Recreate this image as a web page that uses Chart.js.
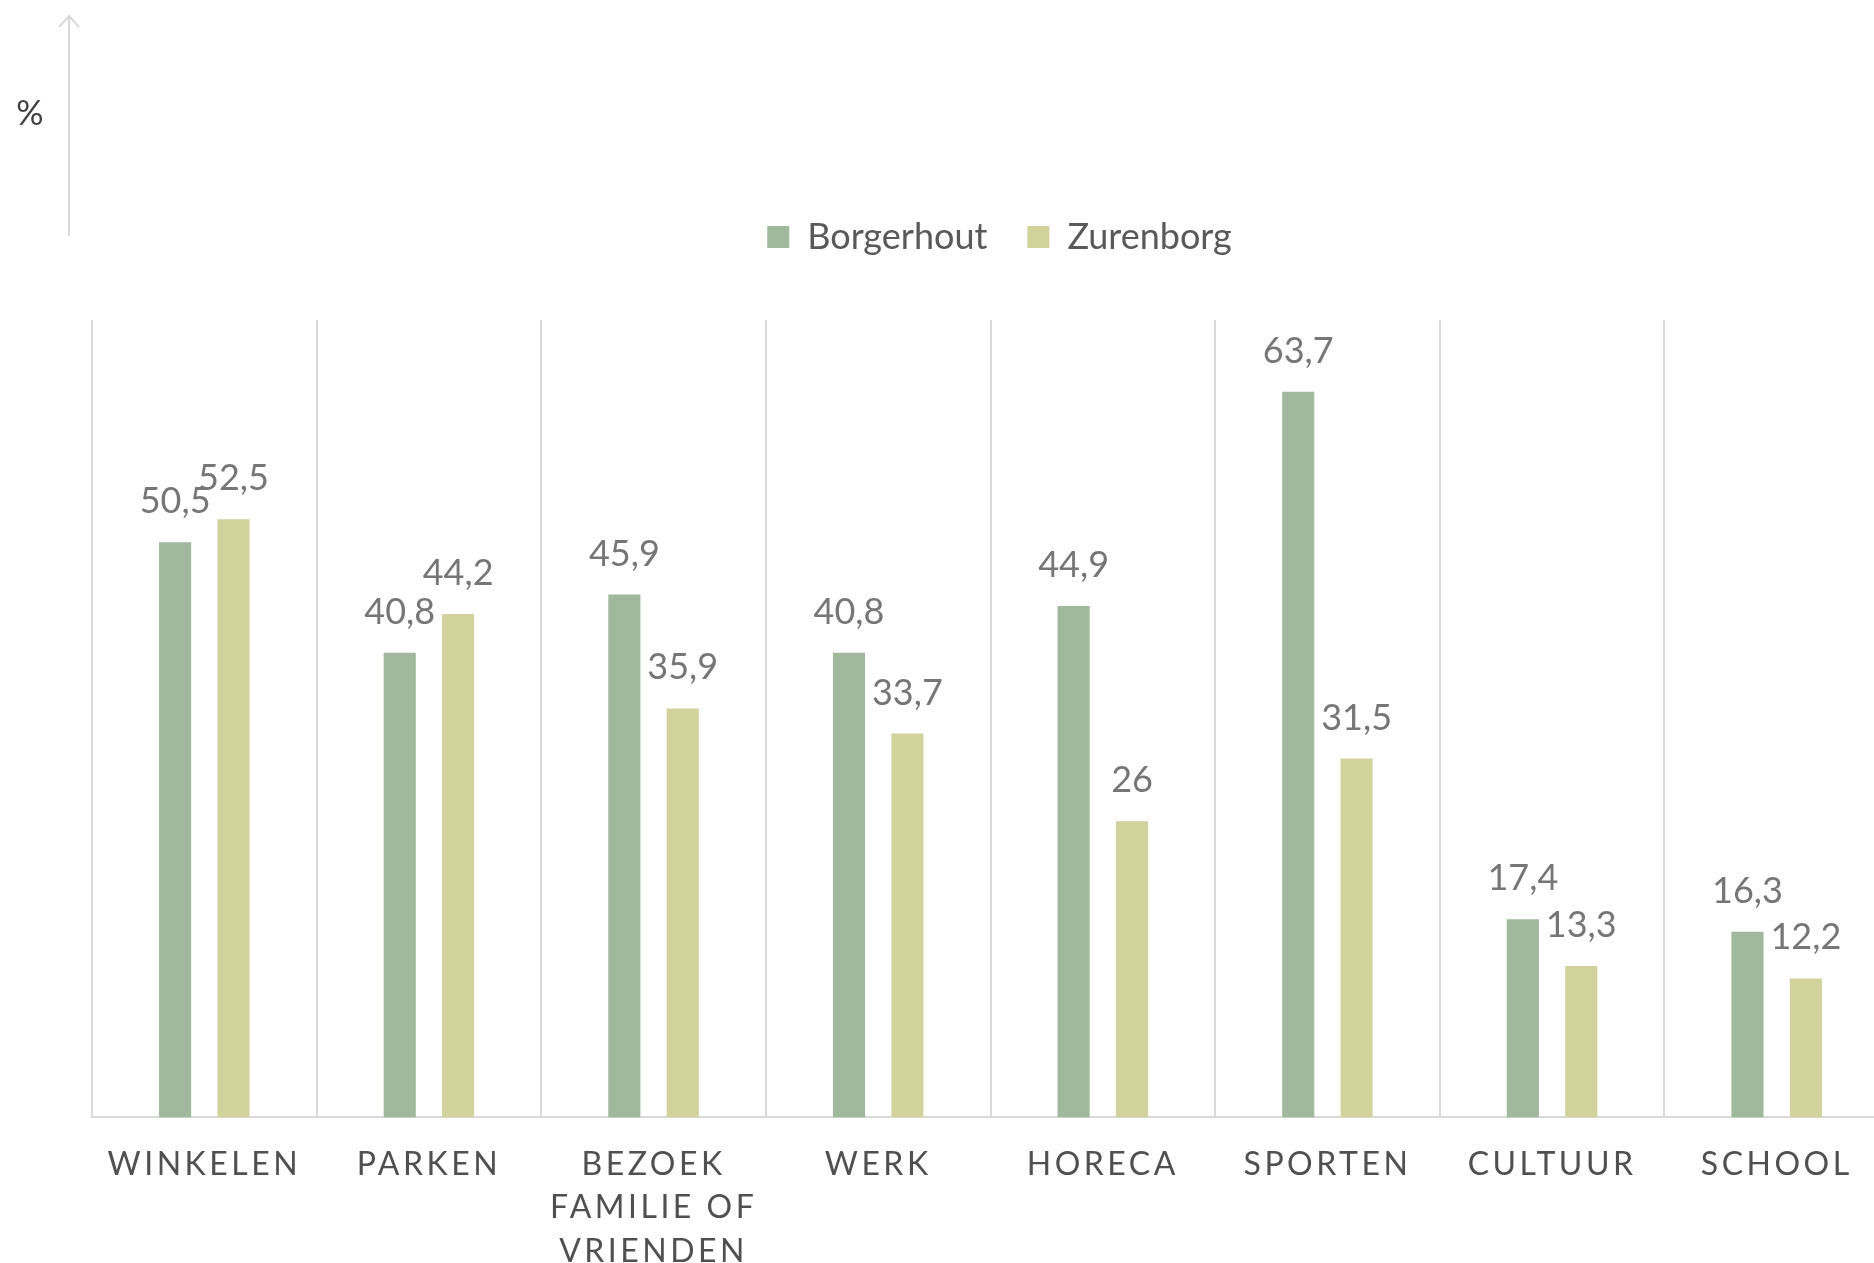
<!DOCTYPE html>
<html>
<head>
<meta charset="utf-8">
<script src="https://cdn.jsdelivr.net/npm/chart.js@4"></script>
<style>
  html, body { margin: 0; padding: 0; background: #fff; overflow: hidden; }
  #wrap { width: 1900px; height: 1298px; position: relative; }
</style>
</head>
<body>
<div id="wrap"><canvas id="chart"></canvas></div>
<script>
// Categories as shown on the x axis (multi-line where the label wraps)
const categories = [
    'WINKELEN',
    'PARKEN',
    ['BEZOEK', 'FAMILIE OF', 'VRIENDEN'],
    'WERK',
    'HORECA',
    'SPORTEN',
    'CULTUUR',
    'SCHOOL'
];

// Series values (%)
const borgerhout = [50.5, 40.8, 45.9, 40.8, 44.9, 63.7, 17.4, 16.3];
const zurenborg = [52.5, 44.2, 35.9, 33.7, 26, 31.5, 13.3, 12.2];

const seriesNames = ['Borgerhout', 'Zurenborg'];
const axisUnit = '%';

const FONT = 'Lato, "Open Sans", sans-serif';

// Format numbers with a decimal comma like the original
function fmtValue(v) {
    return String(v).replace('.', ',');
}

// Give the x tick labels wide letter spacing
const spacedTicks = {
    id: 'spacedTicks',
    beforeDraw(chart) {
        const scale = chart.scales.x;
        if (!scale || scale._spaced) return;
        const orig = scale.drawLabels;
        scale.drawLabels = function (area) {
            const ctx = this.ctx;
            ctx.save();
            ctx.letterSpacing = '3.5px';
            orig.call(this, area);
            ctx.restore();
        };
        scale._spaced = true;
    }
};

// Extra room between legend and plot area, and nudge it a bit right
const legendGap = {
    id: 'legendGap',
    beforeInit(chart) {
        const fit = chart.legend.fit;
        chart.legend.fit = function () {
            fit.call(this);
            this.height += 55;
        };
    },
    afterLayout(chart) {
        chart.legend.left += 9;
        chart.legend.right += 9;
    }
};

// Value labels above each bar
const barLabels = {
    id: 'barLabels',
    afterDatasetsDraw(chart) {
        const ctx = chart.ctx;
        ctx.save();
        ctx.font = '36px ' + FONT;
        ctx.fillStyle = '#767676';
        ctx.textAlign = 'center';
        ctx.textBaseline = 'alphabetic';
        chart.data.datasets.forEach((ds, i) => {
            chart.getDatasetMeta(i).data.forEach((bar, j) => {
                ctx.fillText(fmtValue(ds.data[j]), bar.x, bar.y - 29);
            });
        });
        ctx.restore();
    }
};

// Vertical arrow with the unit at the top left
const unitArrow = {
    id: 'unitArrow',
    afterDraw(chart) {
        const ctx = chart.ctx;
        ctx.save();
        ctx.strokeStyle = '#d9d9d9';
        ctx.lineWidth = 2;
        ctx.beginPath();
        ctx.moveTo(69, 236);
        ctx.lineTo(69, 16);
        ctx.moveTo(59, 27);
        ctx.lineTo(69, 16);
        ctx.lineTo(79, 27);
        ctx.stroke();
        ctx.font = '34px ' + FONT;
        ctx.fillStyle = '#404040';
        ctx.textAlign = 'center';
        ctx.textBaseline = 'middle';
        ctx.fillText(axisUnit, 30, 114);
        ctx.restore();
    }
};

new Chart(document.getElementById('chart'), {
    type: 'bar',
    data: {
        labels: categories,
        datasets: [
            {
                label: seriesNames[0],
                data: borgerhout,
                backgroundColor: '#a0b99c',
                borderWidth: 0
            },
            {
                label: seriesNames[1],
                data: zurenborg,
                backgroundColor: '#d2d29d',
                borderWidth: 0
            }
        ]
    },
    options: {
        responsive: true,
        maintainAspectRatio: false,
        animation: false,
        datasets: {
            bar: { categoryPercentage: 0.52, barPercentage: 0.55 }
        },
        layout: {
            padding: { left: 92, right: 11, top: 179, bottom: 0 }
        },
        plugins: {
            legend: {
                position: 'top',
                labels: {
                    boxWidth: 22,
                    boxHeight: 22,
                    padding: 40,
                    color: '#595959',
                    font: { family: FONT, size: 36 }
                }
            },
            tooltip: { enabled: false }
        },
        scales: {
            x: {
                grid: {
                    display: true,
                    offset: true,
                    color: '#d9d9d9',
                    lineWidth: 2,
                    drawTicks: false
                },
                border: { display: true, color: '#d9d9d9', width: 2 },
                ticks: {
                    autoSkip: false,
                    maxRotation: 0,
                    padding: 25,
                    color: '#505050',
                    font: { family: FONT, size: 32, lineHeight: 1.36 }
                }
            },
            y: {
                display: false,
                min: 0,
                max: 70
            }
        }
    },
    plugins: [spacedTicks, legendGap, barLabels, unitArrow]
});
</script>
</body>
</html>
